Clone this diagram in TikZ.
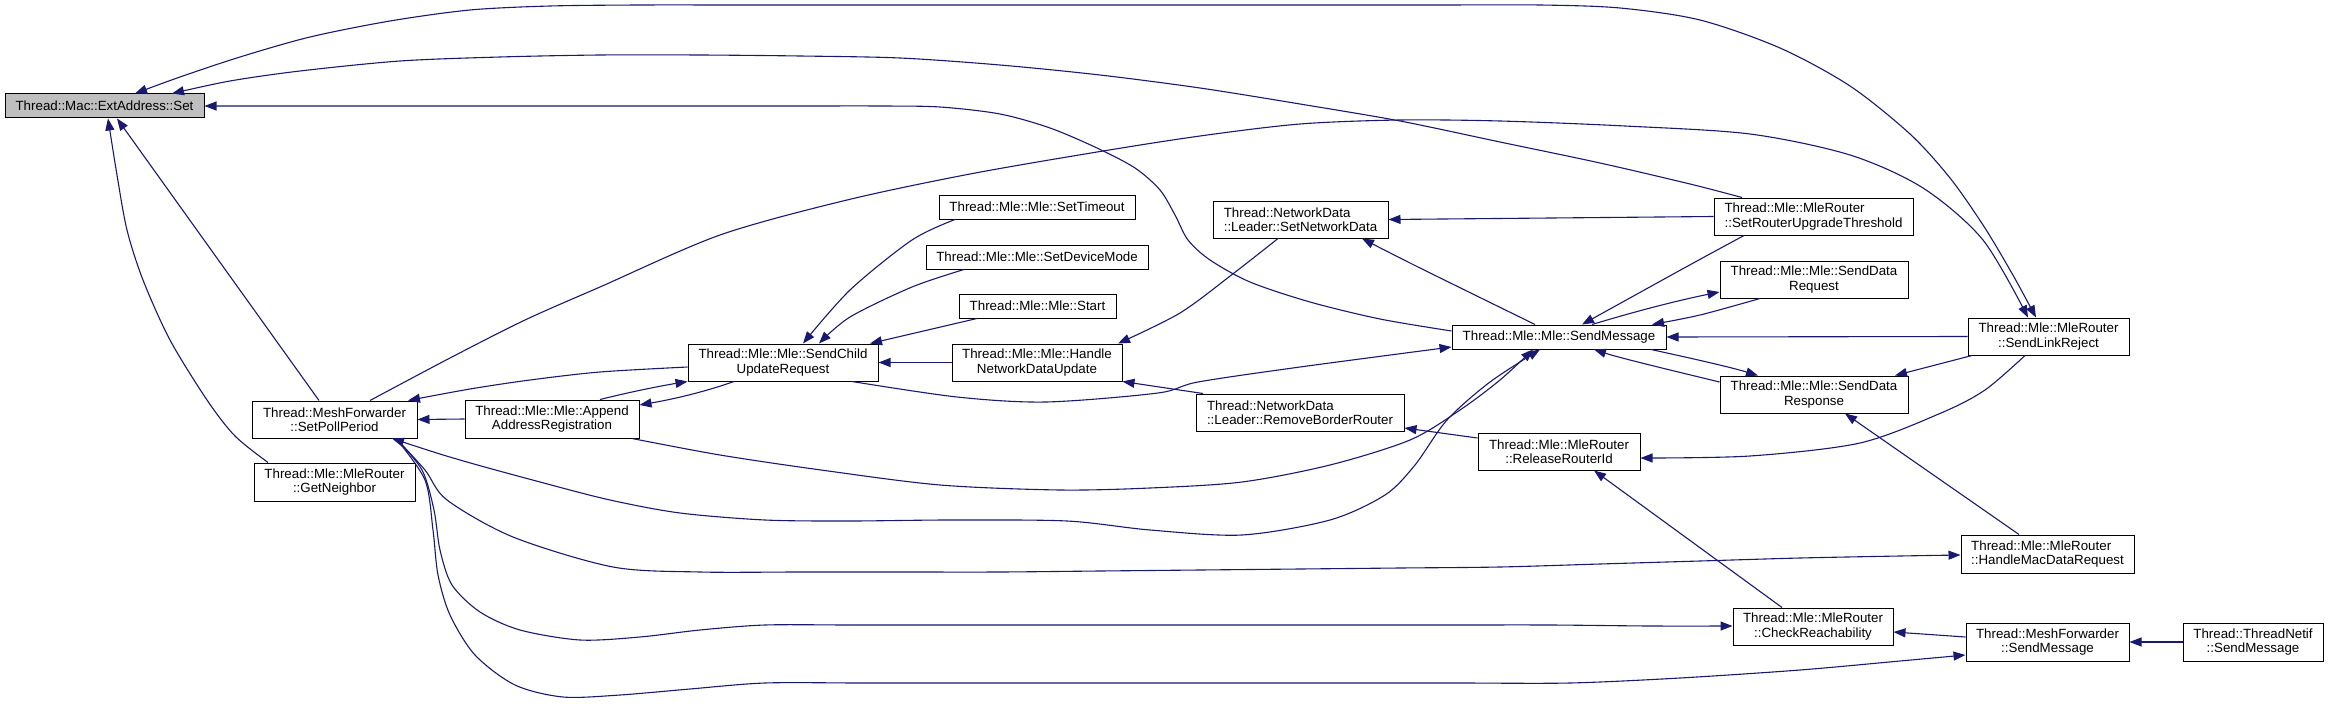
\documentclass[tikz,border=0pt]{standalone}
\usepackage{fontspec}
\setmainfont{Liberation Sans}
\usetikzlibrary{arrows.meta}
\definecolor{mb}{RGB}{25,25,112}
\definecolor{rootgray}{RGB}{191,191,191}
\begin{document}
\begin{tikzpicture}[x=1pt,y=-1pt,
  box/.style={draw=black,line width=1pt,fill=white,inner sep=0pt,align=center,font=\fontsize{13.33}{14.5}\selectfont},
  lbox/.style={box,align=left},
  edge/.style={draw=mb,line width=1.1pt},
  arr/.style={edge,-{Triangle[length=12pt,width=9pt]}},
  barr/.style={edge,{Triangle[length=12pt,width=9pt]}-{Triangle[length=12pt,width=9pt]}}]
\useasboundingbox (0,0) rectangle (2329,706);
% nodes
\node[box,fill=rootgray,minimum width=199pt,minimum height=24pt] (ext) at (104.5,106) {Thread::Mac::ExtAddress::Set};
\node[box,minimum width=165pt,minimum height=37pt] (spp) at (334.5,419.5) {Thread::MeshForwarder\\::SetPollPeriod};
\node[box,minimum width=161pt,minimum height=38pt] (gn) at (334.5,482) {Thread::Mle::MleRouter\\::GetNeighbor};
\node[box,minimum width=174pt,minimum height=38pt] (aar) at (552,419) {Thread::Mle::Mle::Append\\AddressRegistration};
\node[box,minimum width=190pt,minimum height=37pt] (scur) at (783,362.5) {Thread::Mle::Mle::SendChild\\UpdateRequest};
\node[box,minimum width=196pt,minimum height=24pt] (st) at (1037,207) {Thread::Mle::Mle::SetTimeout};
\node[box,minimum width=222pt,minimum height=24pt] (sdm) at (1037,257) {Thread::Mle::Mle::SetDeviceMode};
\node[box,minimum width=157pt,minimum height=24pt] (start) at (1037.5,306) {Thread::Mle::Mle::Start};
\node[box,minimum width=170pt,minimum height=37pt] (hndu) at (1037,362.5) {Thread::Mle::Mle::Handle\\NetworkDataUpdate};
\node[lbox,minimum width=175pt,minimum height=37pt] (snd) at (1300.5,219.5) {Thread::NetworkData\\::Leader::SetNetworkData};
\node[lbox,minimum width=208pt,minimum height=37pt] (rbr) at (1300,412.5) {Thread::NetworkData\\::Leader::RemoveBorderRouter};
\node[box,minimum width=214pt,minimum height=24pt] (sm) at (1559,337) {Thread::Mle::Mle::SendMessage};
\node[box,minimum width=162pt,minimum height=37pt] (rri) at (1559,451.5) {Thread::Mle::MleRouter\\::ReleaseRouterId};
\node[lbox,minimum width=199pt,minimum height=37pt] (srut) at (1813.5,216.5) {Thread::Mle::MleRouter\\::SetRouterUpgradeThreshold};
\node[box,minimum width=188pt,minimum height=37pt] (sdreq) at (1814,279.5) {Thread::Mle::Mle::SendData\\Request};
\node[box,minimum width=188pt,minimum height=37pt] (sdresp) at (1814,394.5) {Thread::Mle::Mle::SendData\\Response};
\node[box,minimum width=161pt,minimum height=37pt] (slr) at (2048.5,336.5) {Thread::Mle::MleRouter\\::SendLinkReject};
\node[lbox,minimum width=173pt,minimum height=38pt] (hmdr) at (2047.5,554) {Thread::Mle::MleRouter\\::HandleMacDataRequest};
\node[box,minimum width=160pt,minimum height=37pt] (cr) at (1813,626.5) {Thread::Mle::MleRouter\\::CheckReachability};
\node[box,minimum width=163pt,minimum height=38pt] (mfsm) at (2047.5,642) {Thread::MeshForwarder\\::SendMessage};
\node[box,minimum width=140pt,minimum height=38pt] (tn) at (2253,642) {Thread::ThreadNetif\\::SendMessage};
% edges into ExtAddress::Set
\draw[barr] plot[smooth] coordinates {(slr.north -| 2036,0) (2010,270) (1983,225) (1950,178) (1910,134) (1850,86) (1780,48) (1700,20) (1620,8) (1540,5) (1440,5) (1340,5) (1240,5) (1140,5) (1040,5) (940,5) (840,5) (740,5) (640,5) (550,6) (470,10) (390,21) (310,37) (240,57) (180,77) (ext.north -| 135,0)};
\draw[arr] plot[smooth] coordinates {(srut.north -| 1742,0) (1690,184) (1600,163) (1500,142) (1400,121) (1300,104) (1200,88) (1100,75) (1000,65) (900,58) (800,56) (700,55) (600,55) (500,57) (400,61) (300,71) (230,81) (ext.north -| 172,0)};
\draw[arr] plot[smooth] coordinates {(sm.west |- 0,331) (1380,319) (1310,302) (1250,282) (1210,260) (1188,240) (1175,215) (1160,190) (1135,168) (1097,148) (1050,128) (1000,114) (940,107) (880,106) (800,106) (700,106) (600,106) (500,106) (400,106) (300,106) (ext.east)};
\draw[arr] (spp.north -| 319,0) -- (ext.south -| 117,0);
\draw[arr] plot[smooth] coordinates {(gn.north -| 268,0) (235,436) (207,400) (170,340) (143,280) (127,230) (117,175) (ext.south -| 108,0)};
% SetPollPeriod -> SendLinkReject
\draw[arr] plot[smooth] coordinates {(spp.north -| 370,0) (450,358) (525,320) (600,287) (720,235) (847,200) (970,174) (1097,152) (1200,136) (1300,124) (1400,120) (1500,121) (1625,126) (1750,134) (1850,155) (1923,188) (1983,240) (slr.north -| 2028,0)};
% around SetPollPeriod
\draw[arr] (aar.west) -- (spp.east);
\draw[arr] plot[smooth] coordinates {(scur.west |- 0,367) (600,372) (530,380) (470,389) (spp.north -| 408,0)};
\draw[arr] (aar.north -| 600,0) .. controls (630,392) and (660,386) .. (scur.south west);
\draw[arr] (scur.south -| 734,0) .. controls (710,390) and (680,398) .. (aar.east |- 0,405);
% into SendChildUpdateRequest
\draw[arr] plot[smooth] coordinates {(st.south -| 955,0) (912,240) (850,290) (scur.north -| 803,0)};
\draw[arr] plot[smooth] coordinates {(sdm.south -| 964,0) (912,287) (850,317) (scur.north -| 819,0)};
\draw[arr] (start.south -| 977,0) -- (scur.north -| 870,0);
\draw[arr] (hndu.west) -- (scur.east);
\draw[arr] plot[smooth] coordinates {(scur.south -| 852,0) (957,397) (1046,402) (1158,393) (1198,382) (1300,367) (sm.west |- 0,347)};
% HandleNetworkDataUpdate
\draw[arr] plot[smooth] coordinates {(snd.south -| 1278,0) (1234,273) (1180,313) (hndu.north -| 1118,0)};
\draw[arr] (rbr.north -| 1203,0) -- (hndu.south east);
% SetNetworkData
\draw[arr] (srut.west) -- (snd.east);
\draw[arr] plot[smooth] coordinates {(sm.north -| 1535,0) (1418,267) (snd.south -| 1362,0)};
% SendMessage (Mle)
\draw[arr] plot[smooth] coordinates {(srut.south -| 1744,0) (1686,267) (sm.north -| 1582,0)};
\draw[arr] (sm.north -| 1592,0) .. controls (1640,310) and (1680,300) .. (sdreq.west |- 0,292);
\draw[arr] plot[smooth] coordinates {(sdreq.south -| 1760,0) (1700,315) (sm.north -| 1652,0)};
\draw[arr] (slr.west) -- (sm.east);
\draw[arr] (sm.south -| 1651,0) .. controls (1690,358) and (1730,367) .. (sdresp.north -| 1758,0);
\draw[arr] (sdresp.west |- 0,382) .. controls (1670,370) and (1620,358) .. (sm.south -| 1594,0);
\draw[arr] (slr.south -| 1972,0) -- (sdresp.north -| 1895,0);
\draw[arr] (hmdr.north -| 2019,0) -- (sdresp.south -| 1845,0);
% ReleaseRouterId etc.
\draw[arr] plot[smooth] coordinates {(slr.south -| 2025,0) (1985,390) (1941,413) (1860,443) (1750,456) (rri.east |- 0,458)};
\draw[arr] (rri.west |- 0,438) -- (rbr.east |- 0,428);
\draw[arr] (cr.north -| 1782,0) -- (rri.south -| 1594,0);
\draw[arr] (mfsm.west |- 0,637) -- (cr.east |- 0,632);
\draw[arr] (tn.west) -- (mfsm.east);
% long lower edges
\draw[arr] plot[smooth] coordinates {(aar.south -| 632,0) (720,455) (821,470) (940,485) (1060,490) (1150,488) (1242,482) (1330,465) (1410,440) (1460,410) (1500,380) (sm.south -| 1533,0)};
\draw[barr] plot[smooth] coordinates {(spp.south -| 392,0) (460,460) (540,482) (610,500) (680,513) (765,520) (850,521) (950,520) (1067,521) (1150,530) (1242,535) (1330,520) (1385,495) (1415,465) (1447,420) (1490,382) (sm.south -| 1540,0)};
\draw[arr] plot[smooth] coordinates {(spp.south -| 396,0) (425,470) (447,500) (513,537) (613,567) (700,572) (800,572) (900,572) (1000,572) (1100,571) (1200,570) (1300,569) (1400,568) (1500,567) (1600,564) (1700,561) (1800,558) (1900,556) (hmdr.west |- 0,555)};
\draw[arr] plot[smooth] coordinates {(spp.south -| 396,0) (422,470) (434,510) (440,550) (452,585) (480,612) (520,630) (580,640) (640,637) (700,630) (765,625) (850,625) (950,625) (1050,625) (1150,625) (1250,625) (1350,625) (1450,625) (1550,625) (1650,626) (cr.west |- 0,626)};
\draw[arr] plot[smooth] coordinates {(spp.south -| 396,0) (425,480) (433,530) (438,575) (450,615) (475,655) (515,685) (563,697) (620,695) (690,689) (765,683) (860,683) (960,683) (1060,683) (1160,683) (1260,683) (1360,683) (1460,683) (1570,683) (1680,678) (1800,670) (1900,661) (mfsm.west |- 0,655)};
\end{tikzpicture}
\end{document}
